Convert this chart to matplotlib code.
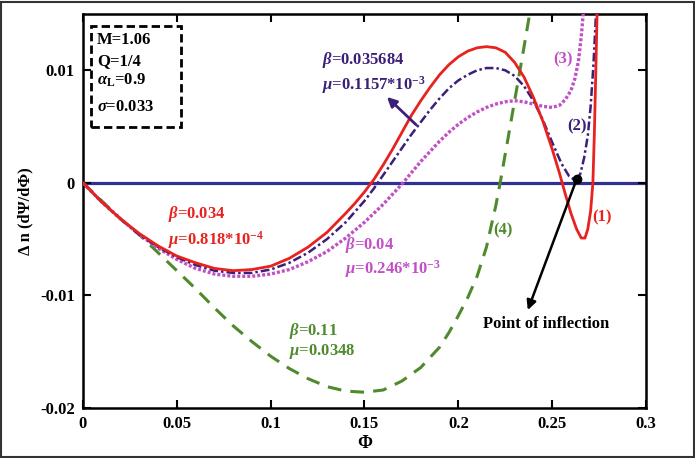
import matplotlib
matplotlib.use("Agg")
import matplotlib.pyplot as plt
from matplotlib.patches import Rectangle

plt.rcParams["font.family"] = ["Liberation Serif", "DejaVu Serif"]
plt.rcParams["font.weight"] = "bold"
plt.rcParams["mathtext.fontset"] = "custom"
plt.rcParams["mathtext.rm"] = "Liberation Serif:bold"
plt.rcParams["mathtext.bf"] = "Liberation Serif:bold"
plt.rcParams["mathtext.it"] = "Liberation Serif:italic"

# Curve (1): beta = 0.034, mu = 0.818e-4
phi_1 = [0.0, 0.01, 0.02, 0.03, 0.04, 0.05, 0.06, 0.07, 0.08, 0.09, 0.10, 0.11,
         0.12, 0.13, 0.14, 0.145, 0.15, 0.155, 0.16, 0.165, 0.17, 0.175, 0.18,
         0.185, 0.19, 0.195, 0.20, 0.205, 0.21, 0.215, 0.22, 0.225, 0.23,
         0.235, 0.24, 0.245, 0.25, 0.254, 0.257, 0.26, 0.263, 0.2655, 0.2675,
         0.269, 0.2705, 0.2717, 0.2725, 0.2732, 0.274]
dn_1 = [0.0, -0.0017, -0.0032, -0.0045, -0.0056, -0.0065, -0.0071, -0.0076,
        -0.0078, -0.0077, -0.0074, -0.0067, -0.0057, -0.0044, -0.0027,
        -0.0018, -0.0008, 0.0003, 0.0016, 0.0030, 0.0045, 0.0060, 0.0073,
        0.0085, 0.0096, 0.0105, 0.0112, 0.0117, 0.0120, 0.0121, 0.0120,
        0.0116, 0.0107, 0.0094, 0.0076, 0.0055, 0.0030, 0.0008, -0.0010,
        -0.0027, -0.0041, -0.0049, -0.0049, -0.0041, -0.0025, 0.0, 0.0045,
        0.0095, 0.0155]

# Curve (2): beta = 0.035684, mu = 0.1157e-3
phi_2 = [0.0, 0.01, 0.02, 0.03, 0.04, 0.05, 0.06, 0.07, 0.08, 0.09, 0.10, 0.11,
         0.12, 0.13, 0.14, 0.15, 0.155, 0.16, 0.165, 0.17, 0.175, 0.18, 0.185,
         0.19, 0.195, 0.20, 0.205, 0.21, 0.215, 0.22, 0.225, 0.23, 0.235, 0.24,
         0.245, 0.25, 0.255, 0.259, 0.2625, 0.265, 0.267, 0.269, 0.2705, 0.272,
         0.2735]
dn_2 = [0.0, -0.0017, -0.0032, -0.0046, -0.0057, -0.0066, -0.0073, -0.0078,
        -0.0080, -0.0080, -0.0077, -0.0071, -0.0062, -0.0050, -0.0035,
        -0.0016, -0.0005, 0.0007, 0.0019, 0.0031, 0.0043, 0.0054, 0.0065,
        0.0075, 0.0084, 0.0091, 0.0096, 0.0100, 0.0102, 0.0102, 0.0100,
        0.0095, 0.0086, 0.0073, 0.0056, 0.0036, 0.0017, 0.0006, 0.0002,
        0.0008, 0.0022, 0.0042, 0.0068, 0.0105, 0.0155]

# Curve (3): beta = 0.04, mu = 0.246e-3
phi_3 = [0.0, 0.01, 0.02, 0.03, 0.04, 0.05, 0.06, 0.07, 0.08, 0.09, 0.10, 0.11,
         0.12, 0.13, 0.14, 0.15, 0.16, 0.165, 0.17, 0.175, 0.18, 0.185, 0.19,
         0.195, 0.20, 0.205, 0.21, 0.215, 0.22, 0.225, 0.23, 0.235, 0.24,
         0.245, 0.25, 0.254, 0.257, 0.26, 0.262, 0.264, 0.2655, 0.2668]
dn_3 = [0.0, -0.0017, -0.0032, -0.0046, -0.0058, -0.0068, -0.0076, -0.0081,
        -0.0083, -0.0083, -0.0081, -0.0077, -0.0070, -0.0061, -0.0049,
        -0.0035, -0.0019, -0.0010, -0.0001, 0.0009, 0.0019, 0.0028, 0.0037,
        0.0045, 0.0052, 0.0058, 0.0063, 0.0067, 0.0070, 0.0072, 0.0073,
        0.0072, 0.0070, 0.0068, 0.0067, 0.0069, 0.0074, 0.0082, 0.0092,
        0.0108, 0.0130, 0.0155]

# Curve (4): beta = 0.11, mu = 0.0348
phi_4 = [0.0, 0.01, 0.02, 0.03, 0.04, 0.05, 0.06, 0.07, 0.08, 0.09, 0.10, 0.11,
         0.12, 0.13, 0.14, 0.15, 0.16, 0.17, 0.18, 0.19, 0.195, 0.20, 0.205,
         0.21, 0.215, 0.22, 0.2225, 0.226, 0.23, 0.234, 0.2385]
dn_4 = [0.0, -0.0016, -0.0032, -0.0046, -0.0062, -0.0078, -0.0094, -0.0111,
        -0.0127, -0.0141, -0.0154, -0.0165, -0.0174, -0.0181, -0.0185,
        -0.0186, -0.0184, -0.0176, -0.0164, -0.0146, -0.0133, -0.0118,
        -0.0102, -0.0083, -0.0057, -0.0020, 0.0002, 0.0035, 0.0073, 0.0111,
        0.0155]

x_ticks = [0, 0.05, 0.1, 0.15, 0.2, 0.25, 0.3]
x_tick_labels = ["0", "0.05", "0.1", "0.15", "0.2", "0.25", "0.3"]
y_ticks = [-0.02, -0.01, 0, 0.01]
y_tick_labels = ["-0.02", "-0.01", "0", "0.01"]

inflection_point = (0.2630, 0.0003)

RED = "#e8221e"
PURPLE = "#3c1f78"
MAGENTA = "#c14fc6"
GREEN = "#4f8a2c"
BLUE = "#2e3192"

fig = plt.figure(figsize=(6.95, 4.58), dpi=100)
ax = fig.add_axes([0.1194, 0.1092, 0.8101, 0.8602])

ax.axhline(0, color=BLUE, lw=2.3, zorder=1)
ax.plot(phi_4, dn_4, color=GREEN, lw=2.2, dashes=(4.5, 3), zorder=2)
ax.plot(phi_3, dn_3, color=MAGENTA, lw=2.4, dashes=(0.9, 0.6), zorder=3)
ax.plot(phi_2, dn_2, color=PURPLE, lw=1.8, dashes=(3.5, 1.2, 1, 1.2), zorder=4)
ax.plot(phi_1, dn_1, color=RED, lw=2.0, zorder=5)

ax.set_xlim(0, 0.3)
ax.set_ylim(-0.02, 0.015)
ax.set_xticks(x_ticks)
ax.set_xticklabels(x_tick_labels)
ax.set_yticks(y_ticks)
ax.set_yticklabels(y_tick_labels)
ax.tick_params(direction="in", length=6, width=1.5, top=True, right=True,
               labelsize=12, pad=6)
for lbl in ax.get_xticklabels() + ax.get_yticklabels():
    lbl.set_fontweight("bold")
for sp in ax.spines.values():
    sp.set_linewidth(1.8)

ax.set_xlabel("Φ", fontsize=13, fontweight="bold", labelpad=2)
ax.set_ylabel("Δ n (dΨ/dΦ)", fontsize=12, fontweight="bold", labelpad=5)

# parameter box
ax.add_patch(Rectangle((0.0137, 0.714), 0.160, 0.2555, transform=ax.transAxes,
                       fill=False, lw=2.0, ls=(0, (3, 1.5)), color="black",
                       zorder=6))
box_lines = ["M=1.06", "Q=1/4", r"$\alpha_{\mathrm{L}}$=0.9", r"$\sigma$=0.033"]
box_y = [0.934, 0.881, 0.832, 0.764]
for s, yy in zip(box_lines, box_y):
    ax.text(0.0249, yy, s, transform=ax.transAxes, fontsize=12,
            fontweight="bold", va="center", ha="left")

# curve annotations
ann = dict(fontsize=12, fontweight="bold", va="center", ha="left")
ax.text(0.1272, 0.0109, r"$\beta$=0.035684", color=PURPLE, **ann)
ax.text(0.1272, 0.0087, r"$\mu$=0.1157*10$^{-3}$", color=PURPLE, **ann)
ax.text(0.0453, -0.0028, r"$\beta$=0.034", color=RED, **ann)
ax.text(0.0453, -0.0051, r"$\mu$=0.818*10$^{-4}$", color=RED, **ann)
ax.text(0.1396, -0.0055, r"$\beta$=0.04", color=MAGENTA, **ann)
ax.text(0.1396, -0.0077, r"$\mu$=0.246*10$^{-3}$", color=MAGENTA, **ann)
ax.text(0.1098, -0.0132, r"$\beta$=0.11", color=GREEN, **ann)
ax.text(0.1098, -0.0150, r"$\mu$=0.0348", color=GREEN, **ann)

ax.text(0.2712, -0.0031, "(1)", color=RED, **ann)
ax.text(0.2578, 0.0050, "(2)", color=PURPLE, **ann)
ax.text(0.2504, 0.0110, "(3)", color=MAGENTA, **ann)
ax.text(0.2184, -0.0042, "(4)", color=GREEN, **ann)

ax.annotate("", xy=(0.1609, 0.0078), xytext=(0.1785, 0.0050),
            arrowprops=dict(arrowstyle="-|>", color=PURPLE, lw=2,
                            mutation_scale=14), zorder=7)

ax.plot([inflection_point[0]], [inflection_point[1]], "o", color="black",
        ms=6, zorder=8)
ax.annotate("", xy=(0.2365, -0.01153), xytext=inflection_point,
            arrowprops=dict(arrowstyle="-|>", color="black", lw=1.8,
                            mutation_scale=14), zorder=8)
ax.text(0.2467, -0.0125, "Point of inflection", fontsize=12,
        fontweight="bold", ha="center", va="center")

# figure frame
fig.add_artist(Rectangle((0.002, 0.002), 0.996, 0.994, transform=fig.transFigure,
                         fill=False, lw=1.5, edgecolor="#333333"))

fig.savefig("out.png", dpi=100)
